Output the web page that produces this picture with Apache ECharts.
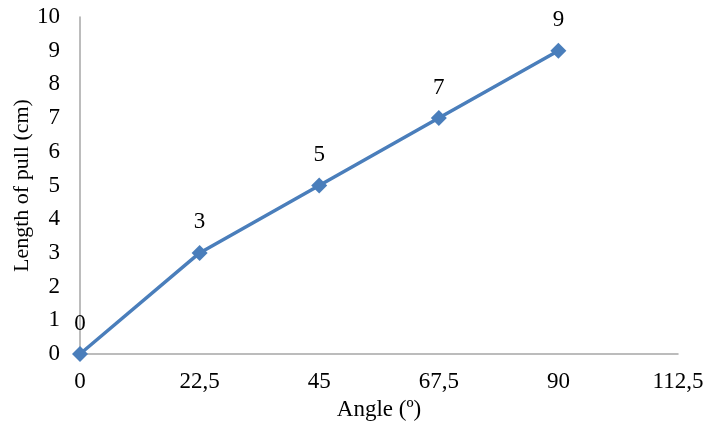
<!DOCTYPE html>
<html><head><meta charset="utf-8">
<script src="https://cdn.jsdelivr.net/npm/echarts@6/dist/echarts.min.js"></script>
<style>html,body{margin:0;padding:0;background:#fff}#c{width:708px;height:425px}</style>
</head><body><div id="c"></div>
<script>
const angles = [0, 22.5, 45, 67.5, 90];
const pulls = [0, 3, 5, 7, 9];
const xTicks = ['0', '22,5', '45', '67,5', '90', '112,5'];
const xName = 'Angle (º)';
const yName = 'Length of pull (cm)';

const font = 'Liberation Serif, Times New Roman, serif';
const fs = 23;
const chart = echarts.init(document.getElementById('c'));
chart.setOption({
  animation: false,
  grid: {left: 80, right: 30, top: 17, bottom: 71, containLabel: false, outerBoundsMode: 'none'},
  xAxis: {
    type: 'value', min: 0, max: 112.5, interval: 22.5,
    name: xName, nameLocation: 'middle', nameGap: 44,
    nameTextStyle: {fontFamily: font, fontSize: fs, color: '#000'},
    axisLine: {show: true, lineStyle: {color: '#a6a6a6', width: 1.5}},
    axisTick: {show: false},
    splitLine: {show: false},
    axisLabel: {fontFamily: font, fontSize: fs, color: '#000', margin: 16,
      formatter: v => xTicks[Math.round(v / 22.5)]}
  },
  yAxis: {
    type: 'value', min: 0, max: 10, interval: 1,
    name: yName, nameLocation: 'middle', nameGap: 47, nameRotate: 90, nameMoveOverlap: false,
    nameTextStyle: {fontFamily: font, fontSize: 22, color: '#000'},
    axisLine: {show: true, lineStyle: {color: '#a6a6a6', width: 1.5}},
    axisTick: {show: false},
    splitLine: {show: false},
    axisLabel: {fontFamily: font, fontSize: fs, color: '#000', margin: 20}
  },
  series: [{
    type: 'line',
    data: angles.map((a, i) => [a, pulls[i]]),
    symbol: 'diamond', symbolSize: 16,
    itemStyle: {color: '#4a7ebb'},
    lineStyle: {color: '#4a7ebb', width: 3.5},
    label: {show: true, position: 'top', distance: 11, fontFamily: font, fontSize: fs, color: '#000',
      formatter: p => p.value[1]}
  }]
});
</script></body></html>
